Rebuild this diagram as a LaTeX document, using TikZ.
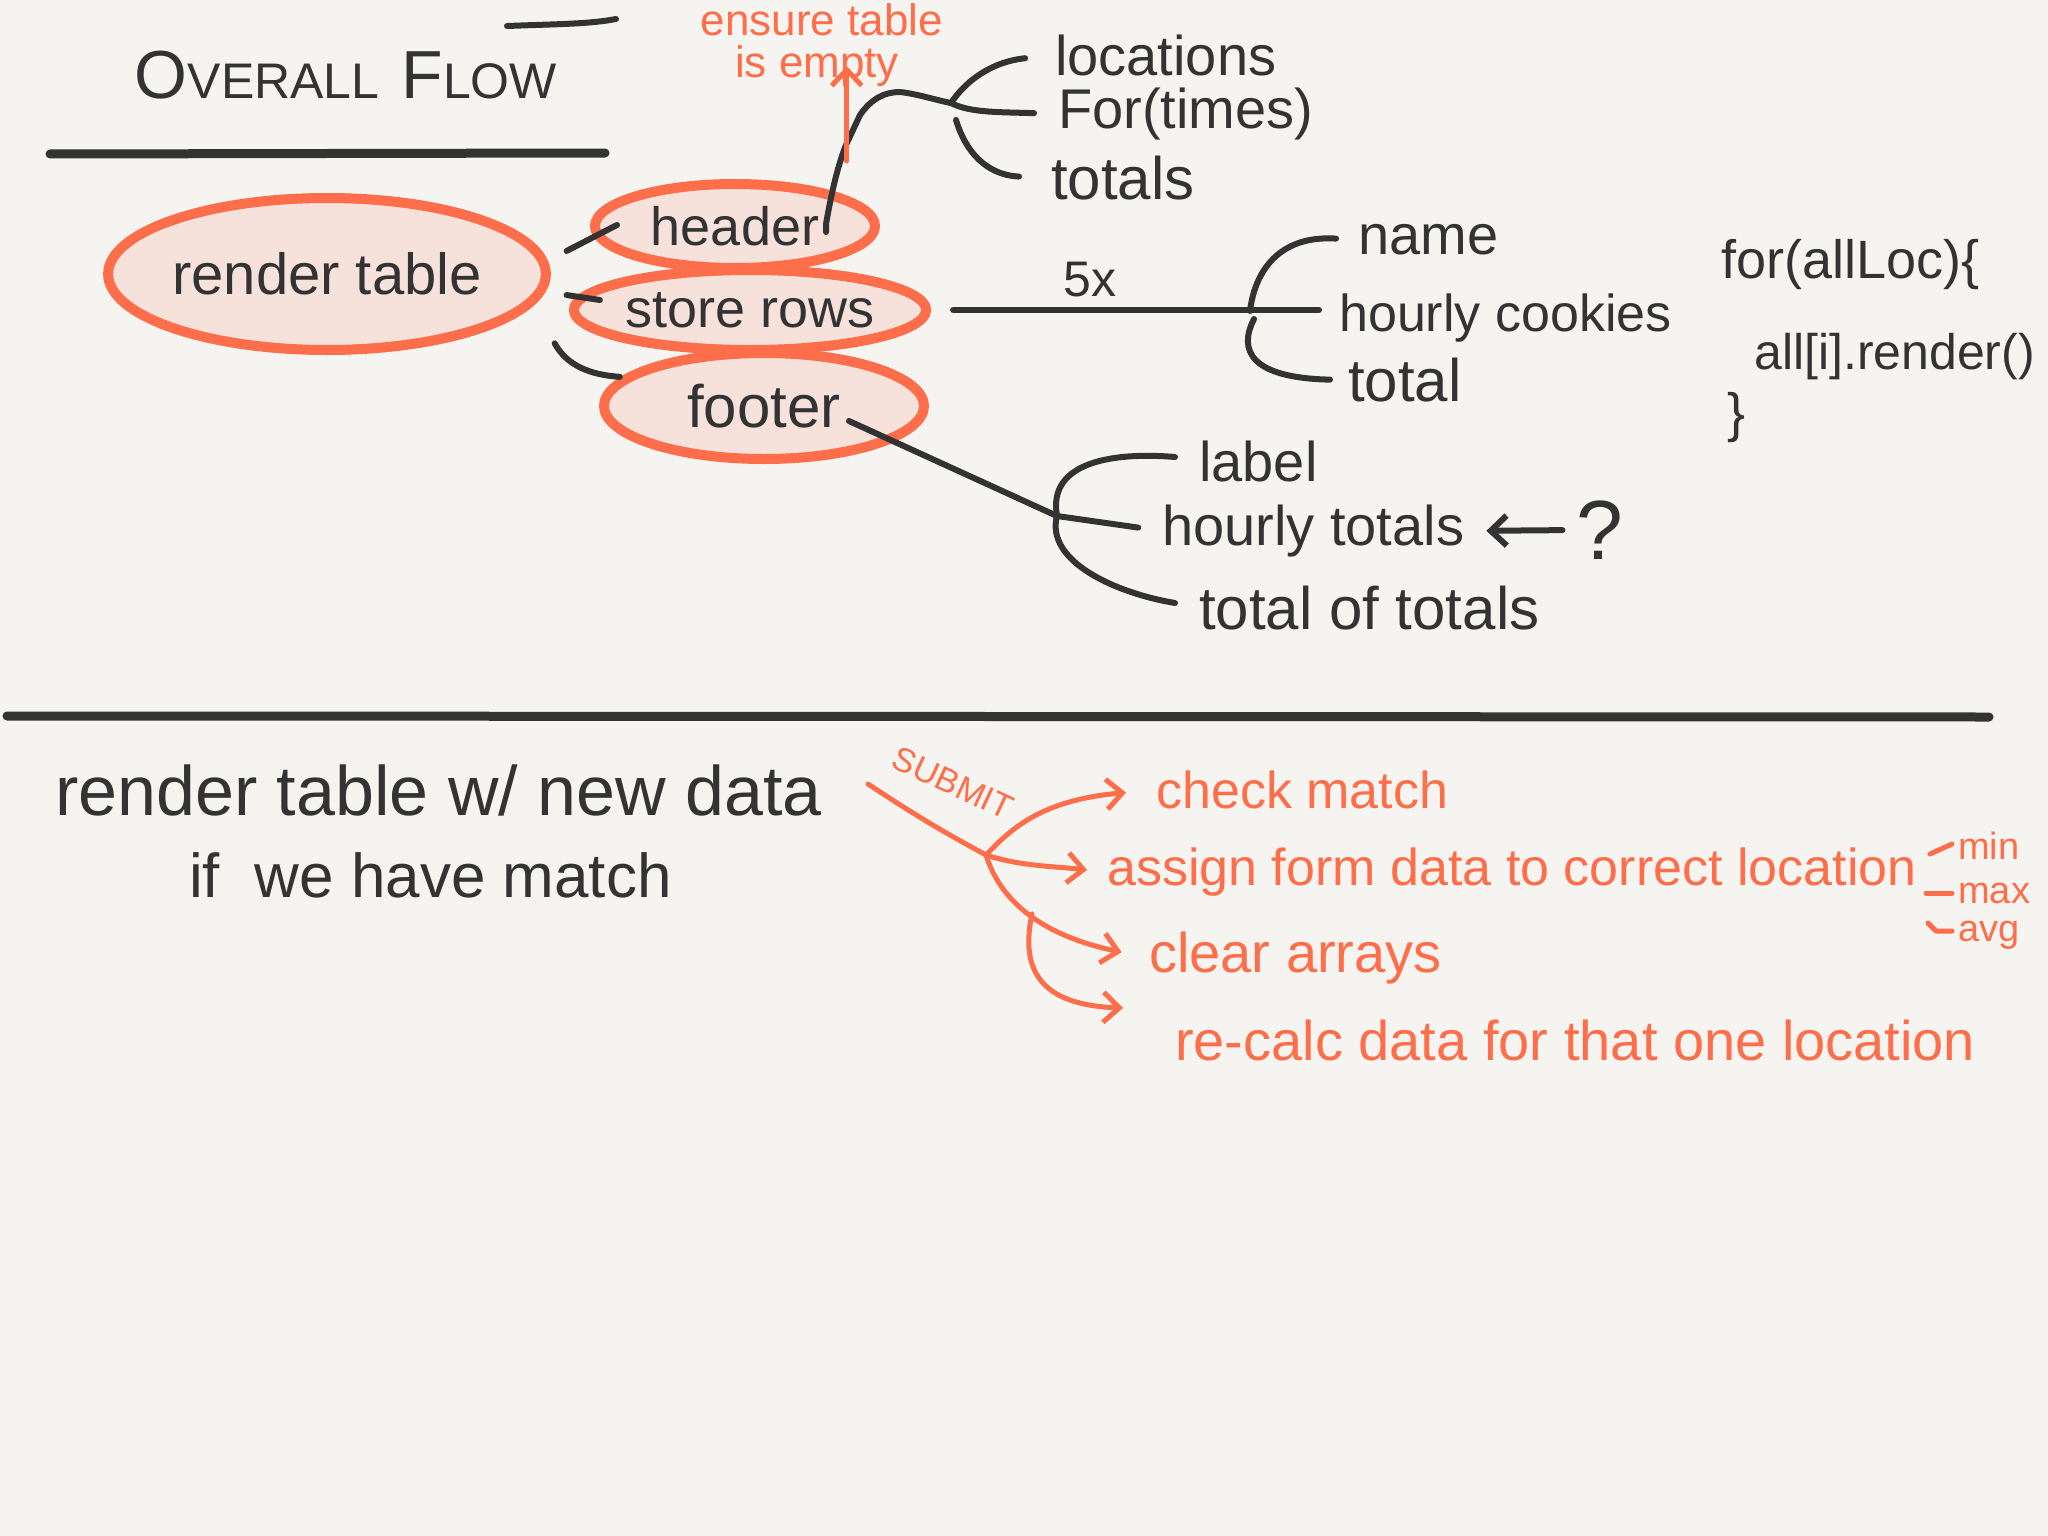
\documentclass[tikz,border=0pt]{standalone}
\usepackage{fontspec}
\setmainfont{Liberation Sans}
\usetikzlibrary{shapes.geometric,arrows.meta,calc}
\definecolor{bg}{HTML}{F5F4F0}
\definecolor{ink}{HTML}{333333}
\definecolor{org}{HTML}{FF6E4A}
\definecolor{pinkfill}{HTML}{F6E2DB}
\newcommand{\setfs}[1]{\fontsize{#1}{#1}\selectfont}
\tikzset{
 bubble/.style={ellipse, draw=org, line width=10pt, fill=pinkfill, inner sep=0pt, text=ink},
 lbl/.style={text=ink, inner sep=0pt, anchor=west, font={\setfs{56}}},
 olbl/.style={text=org, inner sep=0pt, anchor=west, font={\setfs{56}}},
 inkline/.style={draw=ink, line width=6pt, line cap=round, line join=round},
 orgline/.style={draw=org, line width=5pt, line cap=round, line join=round},
 oarrow/.style={orgline, -{Straight Barb[length=16pt,width=30pt,line width=5pt]}},
 iarrow/.style={inkline, -{Straight Barb[length=16pt,width=30pt,line width=6pt]}},
}
\begin{document}
\begin{tikzpicture}[x=1pt,y=-1pt]
\fill[bg] (0,0) rectangle (2048,1536);
\useasboundingbox (0,0) rectangle (2048,1536);

% title
\node[text=ink, inner sep=0pt] (title) at (346,75) {{\setfs{68}O}{\setfs{50}VERALL}\hspace{22pt}{\setfs{68}F}{\setfs{50}LOW}};
\draw[ink, line width=6pt, line cap=round] (507,26) .. controls (560,24) and (590,24) .. (616,19);
\draw[ink, line width=9pt, line cap=round] (50,154) -- (605,153);

% bubbles
\node[bubble, minimum width=432pt, minimum height=152pt, font={\setfs{58}}] (rt) at (327,274) {render table};
\node[bubble, minimum width=280pt, minimum height=84pt, font={\setfs{54}}] (hd) at (735,226) {header};
\node[bubble, minimum width=334pt, minimum height=80pt, font={\setfs{54}}] (sr) at (750,310) {store rows};
\node[bubble, minimum width=320pt, minimum height=106pt, font={\setfs{60}}] (ft) at (764,406) {footer};

\draw[inkline] ([shift={(22,-4)}]rt.5) -- ([shift={(27,-1)}]hd.180);
\draw[inkline] ([shift={(22,2)}]rt.-5) -- ([shift={(31,-10)}]sr.180);
\draw[inkline] ([shift={(19,40)}]rt.-8) .. controls +(12,22) and +(-30,-2) .. ([shift={(-13,6)}]ft.165);

% header branches
\node[lbl] (loc) at (1055,55) {locations};
\node[lbl] (fort) at (1058,114) {For(times)};
\node[lbl, font={\setfs{60}}] (tots) at (1051,178) {totals};
\coordinate (j1) at (951,103);
\draw[inkline] ([shift={(91,6)}]hd.center) -- ++(0,-8) .. controls (832,190) and (838,165) .. (846,145) -- (860,115) .. controls (872,98) and (885,92) .. (900,92) .. controls (918,94) and (935,100) .. (j1);
\draw[inkline, shorten >=30pt] (j1) .. controls (965,82) and (990,62) .. (loc.west);
\draw[inkline, shorten >=24pt] (j1) .. controls (970,113) and (1000,112) .. (fort.west);
\draw[inkline, shorten >=32pt] ([shift={(5,17)}]j1) .. controls (965,150) and (985,175) .. (tots.west);

% ensure table
\node[text=org, inner sep=0pt, font={\setfs{44}}] (ens1) at (822,20) {ensure table};
\node[text=org, inner sep=0pt, font={\setfs{44}}] (ens2) at (817,66) {is empty};
\draw[oarrow, shorten <=35pt] (hd.15) -- (hd.15 |- ens2.center);

% store rows branches
\node[lbl] (nm) at (1358,240) {name};
\node[lbl, font={\setfs{52}}] (hc) at (1339,318) {hourly cookies};
\node[lbl, font={\setfs{60}}] (tl) at (1348,380) {total};
\node[text=ink, inner sep=0pt, font={\setfs{50}}] (fx) at (1090,280) {5x};
\coordinate (j2) at (1250,311);
\draw[inkline, shorten <=22pt, shorten >=20pt] (sr.east) -- (sr.east -| hc.west);
\draw[inkline, shorten >=22pt] (j2) .. controls (1255,270) and (1280,235) .. (nm.west);
\draw[inkline, shorten >=18pt] ([shift={(4,8)}]j2) .. controls (1238,350) and (1250,378) .. (tl.west);

% footer branches
\node[lbl] (lab) at (1199,461) {label};
\node[lbl] (ht) at (1162,531) {hourly totals};
\node[lbl, font={\setfs{60}}] (tot2) at (1199,608) {total of totals};
\node[text=ink, inner sep=0pt, font={\setfs{84}}] (q) at (1600,530) {?};
\coordinate (j3) at (1057,516);
\draw[inkline] ([shift={(85,15)}]ft.center) -- (j3);
\draw[inkline] (j3) .. controls +(-10,-55) and +(-60,-5) .. ([shift={(-24,-4)}]lab.west);
\draw[inkline, shorten >=24pt] (j3) -- (ht.west);
\draw[inkline] (j3) .. controls +(-12,45) and +(-60,-10) .. ([shift={(-24,-5)}]tot2.west);
\draw[iarrow, shorten <=14pt, shorten >=22pt] (q.west) -- (ht.east);

% code
\node[lbl, font={\setfs{54}}] (c1) at (1721,265) {for(allLoc)\{};
\node[lbl, font={\setfs{50}}] (c2) at (1754,357) {all[i].render()};
\node[lbl, font={\setfs{54}}] (c3) at (1727,418) {\}};

% divider
\draw[ink, line width=9pt, line cap=round] (7,716) -- (1989,717);

% bottom
\node[lbl, font={\setfs{70}}] (b1) at (55,790) {render table w/ new data};
\node[lbl, font={\setfs{62}}] (b2) at (189,875) {if\ \ we have match};

\node[text=org, inner sep=0pt, font={\setfs{34}}, rotate=-25] (sub) at (953,783) {SUBMIT};
\node[olbl, font={\setfs{52}}] (cm) at (1156,790) {check match};
\node[olbl, font={\setfs{52}}] (asg) at (1107,872) {assign form data to correct location};
\node[olbl] (ca) at (1149,958) {clear arrays};
\node[olbl] (rc) at (1175,1040) {re-calc data for that one location};
\node[olbl, font={\setfs{38}}] (mn) at (1958,846) {min};
\node[olbl, font={\setfs{38}}] (mx) at (1958,893) {max};
\node[olbl, font={\setfs{38}}] (av) at (1958,935) {avg};

\coordinate (s0) at (868,784);
\coordinate (hub) at (986,855);
\draw[orgline] (s0) .. controls (915,815) and (940,830) .. (hub);
\draw[oarrow, shorten >=30pt] (hub) .. controls (1010,830) and (1040,800) .. (cm.west);
\draw[oarrow, shorten >=20pt] (hub) .. controls (1020,866) and (1050,866) .. (asg.west);
\draw[oarrow, shorten >=28pt] (hub) .. controls (1000,900) and (1040,935) .. (ca.west);
\draw[oarrow] ([shift={(46,59)}]hub) .. controls (1020,970) and (1040,1005) .. ([shift={(-52,-32)}]rc.west);
\draw[orgline] ([shift={(-28,8)}]mn.west) -- ([shift={(-6,-2)}]mn.west);
\draw[orgline] ([shift={(-32,0)}]mx.west) -- ([shift={(-6,0)}]mx.west);
\draw[orgline] ([shift={(-30,-12)}]av.west) -- ([shift={(-22,-4)}]av.west) -- ([shift={(-6,-4)}]av.west);
\end{tikzpicture}
\end{document}
